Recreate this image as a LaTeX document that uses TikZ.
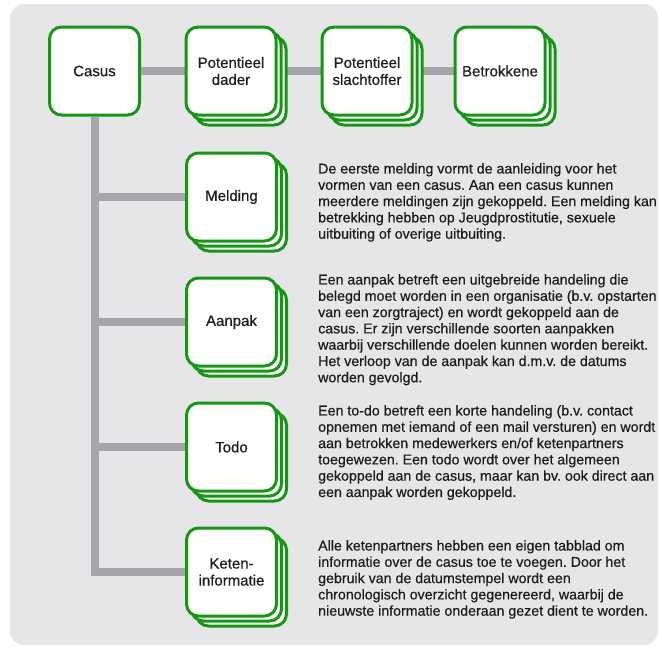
\documentclass[tikz,border=0pt]{standalone}
\usepackage{fontspec}
\setmainfont{Liberation Sans}[FakeBold=0.5]
\usetikzlibrary{shadows, backgrounds}

\definecolor{kgroen}{RGB}{20,152,20}
\definecolor{kgrijs}{RGB}{166,166,170}
\definecolor{kachter}{RGB}{230,230,232}
\definecolor{ktekst}{RGB}{28,28,28}

\tikzset{
  blok/.style={draw=kgroen, line width=3pt, fill=white, rounded corners=12pt,
    minimum width=90pt, minimum height=88pt, align=center, inner sep=2pt,
    font=\fontsize{15}{17}\selectfont, text=ktekst},
  stapel/.style={blok, double copy shadow={shadow xshift=5pt, shadow yshift=-5pt}},
  lijn/.style={draw=kgrijs, line width=8pt},
  uitleg/.style={anchor=north west, align=left, inner sep=0pt,
    font=\fontsize{14.2}{16.3}\selectfont, text=ktekst},
}
\frenchspacing

\begin{document}
\begin{tikzpicture}[x=1pt, y=-1pt]
  \useasboundingbox (0,0) rectangle (662,648);
  % 上面一行
  \node[blok] (casus) at (94.5,71) {Casus};
  \node[stapel] (dader) at (231,71) {Potentieel\\dader};
  \node[stapel] (slacht) at (367,71) {Potentieel\\slachtoffer};
  \node[stapel] (betrok) at (500,71) {Betrokkene};
  % 下面四个
  \foreach \nm/\yy/\lab in {melding/197/Melding, aanpak/322/Aanpak, todo/447/Todo, keten/572/{Keten-\\informatie}}
    \node[stapel] (\nm) at (231.5,\yy) {\lab};
  % 说明文字
  \node[uitleg] (tmelding) at (318,163) {De eerste melding vormt de aanleiding voor het\\
    vormen van een casus. Aan een casus kunnen\\
    meerdere meldingen zijn gekoppeld. Een melding kan\\
    betrekking hebben op Jeugdprostitutie, sexuele\\
    uitbuiting of overige uitbuiting.};
  \node[uitleg] (taanpak) at (318,274) {Een aanpak betreft een uitgebreide handeling die\\
    belegd moet worden in een organisatie (b.v. opstarten\\
    van een zorgtraject) en wordt gekoppeld aan de\\
    casus. Er zijn verschillende soorten aanpakken\\
    waarbij verschillende doelen kunnen worden bereikt.\\
    Het verloop van de aanpak kan d.m.v. de datums\\
    worden gevolgd.};
  \node[uitleg] (ttodo) at (318,405) {Een to-do betreft een korte handeling (b.v. contact\\
    opnemen met iemand of een mail versturen) en wordt\\
    aan betrokken medewerkers en/of ketenpartners\\
    toegewezen. Een todo wordt over het algemeen\\
    gekoppeld aan de casus, maar kan bv. ook direct aan\\
    een aanpak worden gekoppeld.};
  \node[uitleg] (tketen) at (318,540) {Alle ketenpartners hebben een eigen tabblad om\\
    informatie over de casus toe te voegen. Door het\\
    gebruik van de datumstempel wordt een\\
    chronologisch overzicht gegenereerd, waarbij de\\
    nieuwste informatie onderaan gezet dient te worden.};
  % 背景和连线
  \begin{scope}[on background layer]
    \fill[kachter, rounded corners=14pt] (10,4) rectangle (658,645);
    \draw[lijn] (casus) -- (dader);
    \draw[lijn] (dader) -- (slacht);
    \draw[lijn] (slacht) -- (betrok);
    \foreach \nm in {melding, aanpak, todo, keten}
      \draw[lijn] (casus.south) |- (\nm.west);
  \end{scope}
\end{tikzpicture}
\end{document}
